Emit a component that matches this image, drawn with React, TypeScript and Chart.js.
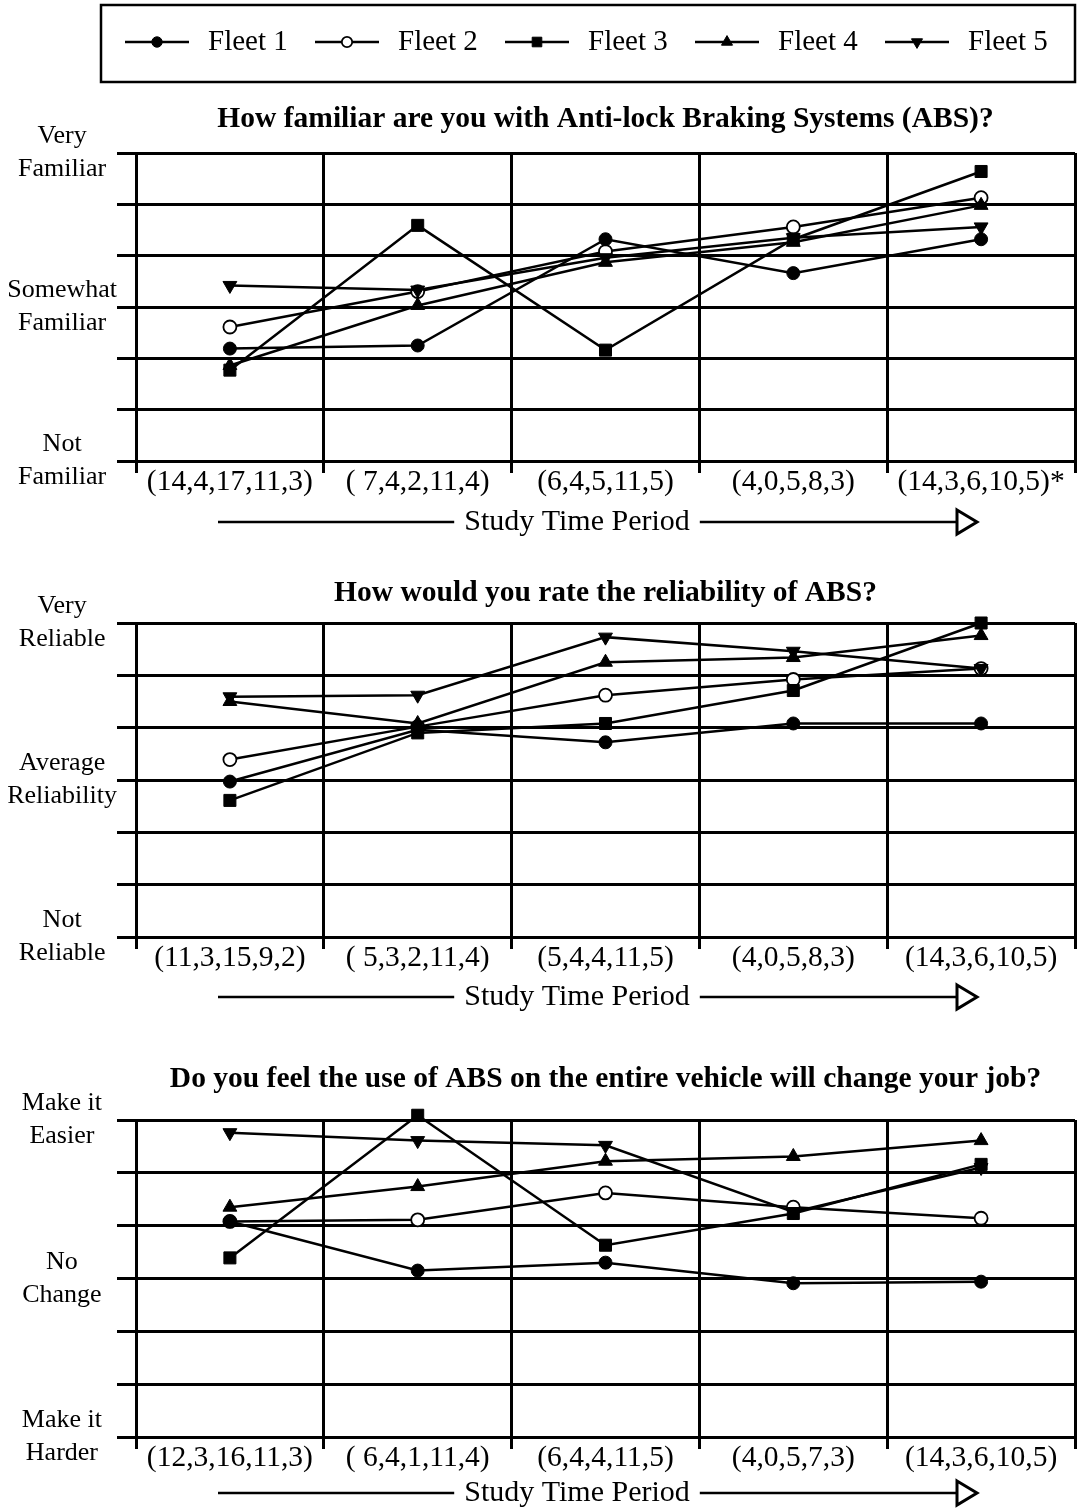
import React, { useEffect, useRef } from 'react';
import { Chart, registerables } from 'chart.js';

Chart.register(...registerables);

const FONT = "'Liberation Serif', 'Times New Roman', Times, serif";

const fleetNames = ['Fleet 1', 'Fleet 2', 'Fleet 3', 'Fleet 4', 'Fleet 5'];

// scale: 1 = lowest answer, 2 = middle answer, 3 = highest answer
const levelTicks = [1, 4 / 3, 5 / 3, 2, 7 / 3, 8 / 3, 3];

// Panel 1 — familiarity
const familiarTitle = 'How familiar are you with Anti-lock Braking Systems (ABS)?';
const familiarPeriods = ['(14,4,17,11,3)', '( 7,4,2,11,4)', '(6,4,5,11,5)', '(4,0,5,8,3)', '(14,3,6,10,5)*'];
const familiarLevels = [['Not', 'Familiar'], ['Somewhat', 'Familiar'], ['Very', 'Familiar']];
const familiarFleet1 = [1.73, 1.75, 2.44, 2.22, 2.44];
const familiarFleet2 = [1.87, 2.1, 2.36, 2.52, 2.71];
const familiarFleet3 = [1.59, 2.53, 1.72, 2.44, 2.88];
const familiarFleet4 = [1.62, 2.01, 2.29, 2.42, 2.66];
const familiarFleet5 = [2.14, 2.11, 2.32, 2.45, 2.52];

// Panel 2 — reliability
const reliableTitle = 'How would you rate the reliability of ABS?';
const reliablePeriods = ['(11,3,15,9,2)', '( 5,3,2,11,4)', '(5,4,4,11,5)', '(4,0,5,8,3)', '(14,3,6,10,5)'];
const reliableLevels = [['Not', 'Reliable'], ['Average', 'Reliability'], ['Very', 'Reliable']];
const reliableFleet1 = [1.99, 2.32, 2.24, 2.36, 2.36];
const reliableFleet2 = [2.13, 2.34, 2.54, 2.64, 2.71];
const reliableFleet3 = [1.87, 2.3, 2.36, 2.57, 3.0];
const reliableFleet4 = [2.5, 2.36, 2.75, 2.78, 2.92];
const reliableFleet5 = [2.53, 2.54, 2.91, 2.82, 2.71];

// Panel 3 — job change
const jobTitle = 'Do you feel the use of ABS on the entire vehicle will change your job?';
const jobPeriods = ['(12,3,16,11,3)', '( 6,4,1,11,4)', '(6,4,4,11,5)', '(4,0,5,7,3)', '(14,3,6,10,5)'];
const jobLevels = [['Make it', 'Harder'], ['No', 'Change'], ['Make it', 'Easier']];
const jobFleet1 = [2.36, 2.05, 2.1, 1.97, 1.98];
const jobFleet2 = [2.36, 2.37, 2.54, 2.45, 2.38];
const jobFleet3 = [2.13, 3.03, 2.21, 2.41, 2.72];
const jobFleet4 = [2.45, 2.58, 2.74, 2.77, 2.87];
const jobFleet5 = [2.92, 2.87, 2.84, 2.42, 2.7];

const markerStyles = [
  { pointStyle: 'circle', radius: 6.5, fill: '#000', rotation: 0, bw: 1, order: 0 },
  { pointStyle: 'circle', radius: 6.5, fill: '#fff', rotation: 0, bw: 1.8, order: 1 },
  { pointStyle: 'rect', radius: 8.5, fill: '#000', rotation: 0, bw: 1, order: 0 },
  { pointStyle: 'triangle', radius: 8, fill: '#000', rotation: 0, bw: 1, order: 0 },
  { pointStyle: 'triangle', radius: 8, fill: '#000', rotation: 180, bw: 1, order: 0 },
];

function drawMarker(ctx: CanvasRenderingContext2D, style: string, x: number, y: number, r: number, fill: string, rotation: number, bw: number) {
  ctx.save();
  ctx.translate(x, y);
  ctx.rotate((rotation * Math.PI) / 180);
  ctx.beginPath();
  if (style === 'circle') {
    ctx.arc(0, 0, r, 0, Math.PI * 2);
  } else if (style === 'rect') {
    const s = r * Math.SQRT1_2;
    ctx.rect(-s, -s, 2 * s, 2 * s);
  } else {
    let rad = 0;
    const step = (2 * Math.PI) / 3;
    ctx.moveTo(Math.sin(rad) * r, -Math.cos(rad) * r);
    rad += step;
    ctx.lineTo(Math.sin(rad) * r, -Math.cos(rad) * r);
    rad += step;
    ctx.lineTo(Math.sin(rad) * r, -Math.cos(rad) * r);
  }
  ctx.closePath();
  ctx.fillStyle = fill;
  ctx.fill();
  ctx.lineWidth = bw;
  ctx.strokeStyle = '#000';
  ctx.stroke();
  ctx.restore();
}

const legendPlugin = {
  id: 'fleetLegend',
  afterDraw(chart: any) {
    const ctx: CanvasRenderingContext2D = chart.ctx;
    ctx.save();
    ctx.strokeStyle = '#000';
    ctx.lineWidth = 2.5;
    ctx.strokeRect(101, 5, 974, 77);
    chart.data.datasets.forEach((ds: any, i: number) => {
      const x0 = 125 + i * 190;
      const y = 42;
      ctx.strokeStyle = '#000';
      ctx.lineWidth = 2.5;
      ctx.beginPath();
      ctx.moveTo(x0, y);
      ctx.lineTo(x0 + 64, y);
      ctx.stroke();
      drawMarker(ctx, ds.pointStyle, x0 + 32, y, ds.pointRadius * 0.8, ds.pointBackgroundColor, ds.pointRotation, ds.pointBorderWidth);
      ctx.font = `29px ${FONT}`;
      ctx.fillStyle = '#000';
      ctx.textAlign = 'left';
      ctx.textBaseline = 'middle';
      ctx.fillText(ds.label, x0 + 83, y);
    });
    ctx.restore();
  },
};

function studyAxisPlugin(offset: number) {
  return {
    id: 'studyAxis',
    afterDraw(chart: any) {
      const ctx: CanvasRenderingContext2D = chart.ctx;
      const area = chart.chartArea;
      const y = area.bottom + offset;
      const cx = area.left + 441;
      const text = 'Study Time Period';
      ctx.save();
      ctx.font = `30px ${FONT}`;
      ctx.fillStyle = '#000';
      ctx.textAlign = 'center';
      ctx.textBaseline = 'middle';
      const w = ctx.measureText(text).width;
      ctx.fillText(text, cx, y);
      ctx.strokeStyle = '#000';
      ctx.lineWidth = 2.5;
      ctx.beginPath();
      ctx.moveTo(cx - 359, y);
      ctx.lineTo(cx - w / 2 - 10, y);
      ctx.moveTo(cx + w / 2 + 10, y);
      ctx.lineTo(cx + 381, y);
      ctx.stroke();
      ctx.beginPath();
      ctx.moveTo(cx + 380, y - 12);
      ctx.lineTo(cx + 400, y);
      ctx.lineTo(cx + 380, y + 12);
      ctx.closePath();
      ctx.fillStyle = '#fff';
      ctx.fill();
      ctx.lineWidth = 3;
      ctx.stroke();
      ctx.restore();
    },
  };
}

type PanelCfg = {
  title: string;
  categories: string[];
  levels: string[][];
  series: number[][];
  top: number;
  height: number;
  titleTop: number;
  titleBottom: number;
  padBottom: number;
  axisOffset: number;
  yPad: number;
  legend: boolean;
};

const panels: PanelCfg[] = [
  {
    title: familiarTitle,
    categories: familiarPeriods,
    levels: familiarLevels,
    series: [familiarFleet1, familiarFleet2, familiarFleet3, familiarFleet4, familiarFleet5],
    top: 0, height: 545, titleTop: 101.3, titleBottom: 16.3, padBottom: 44, axisOffset: 61, yPad: 0, legend: true,
  },
  {
    title: reliableTitle,
    categories: reliablePeriods,
    levels: reliableLevels,
    series: [reliableFleet1, reliableFleet2, reliableFleet3, reliableFleet4, reliableFleet5],
    top: 545, height: 485, titleTop: 30.3, titleBottom: 12.3, padBottom: 53, axisOffset: 60, yPad: 0, legend: false,
  },
  {
    title: jobTitle,
    categories: jobPeriods,
    levels: jobLevels,
    series: [jobFleet1, jobFleet2, jobFleet3, jobFleet4, jobFleet5],
    top: 1030, height: 478, titleTop: 31.3, titleBottom: 23.3, padBottom: 31, axisOffset: 56, yPad: 15, legend: false,
  },
];

function Panel({ cfg }: { cfg: PanelCfg }) {
  const ref = useRef<HTMLCanvasElement>(null);
  useEffect(() => {
    if (!ref.current) return;
    const datasets = cfg.series.map((data, i) => {
      const m = markerStyles[i];
      return {
        label: fleetNames[i],
        data,
        order: m.order,
        borderColor: '#000',
        borderWidth: 2.5,
        backgroundColor: m.fill,
        pointStyle: m.pointStyle,
        pointRadius: m.radius,
        pointHoverRadius: m.radius,
        pointBackgroundColor: m.fill,
        pointBorderColor: '#000',
        pointBorderWidth: m.bw,
        pointRotation: m.rotation,
        tension: 0,
        fill: false,
        clip: false,
      };
    });
    const plugins: any[] = [studyAxisPlugin(cfg.axisOffset)];
    if (cfg.legend) plugins.push(legendPlugin);
    const chart = new Chart(ref.current, {
      type: 'line',
      data: { labels: cfg.categories, datasets: datasets as any },
      plugins,
      options: {
        responsive: false,
        animation: false,
        events: [],
        layout: { autoPadding: false, padding: { left: 0, right: 5, top: 0, bottom: cfg.padBottom } },
        plugins: {
          legend: { display: false },
          tooltip: { enabled: false },
          title: {
            display: true,
            text: cfg.title,
            color: '#000',
            fullSize: false,
            font: { family: FONT, size: 29.5, weight: 'bold', lineHeight: 1.2 },
            padding: { top: cfg.titleTop, bottom: cfg.titleBottom },
          },
        },
        scales: {
          x: {
            type: 'category',
            offset: true,
            grid: { offset: true, color: '#000', lineWidth: 3, tickLength: 12, drawTicks: true },
            border: { display: true, color: '#000', width: 3 },
            ticks: {
              color: '#000',
              font: { family: FONT, size: 29.5, lineHeight: 1 },
              padding: -6,
              maxRotation: 0,
              minRotation: 0,
              autoSkip: false,
            },
            afterFit: (s: any) => { s.height = 40; },
          },
          y: {
            type: 'linear',
            min: 1,
            max: 3,
            grid: { color: '#000', lineWidth: 3, tickLength: 19, drawTicks: true },
            border: { display: true, color: '#000', width: 3 },
            afterBuildTicks: (s: any) => { s.ticks = levelTicks.map((v) => ({ value: v })); },
            ticks: {
              color: '#000',
              font: { family: FONT, size: 26, lineHeight: 1.27 },
              crossAlign: 'center',
              padding: cfg.yPad,
              autoSkip: false,
              callback: (_v: any, i: number) => (i === 0 ? cfg.levels[0] : i === 3 ? cfg.levels[1] : i === 6 ? cfg.levels[2] : ''),
            },
            afterFit: (s: any) => { s.width = 136; },
          },
        },
      } as any,
    });
    return () => chart.destroy();
  }, [cfg]);
  return (
    <canvas
      ref={ref}
      width={1080}
      height={cfg.height}
      style={{ position: 'absolute', left: 0, top: cfg.top, display: 'block', width: 1080, height: cfg.height }}
    />
  );
}

export default function App() {
  return (
    <div style={{ position: 'absolute', left: 0, top: 0, width: 1080, height: 1508, background: '#fff', overflow: 'hidden' }}>
      {panels.map((p, i) => (
        <Panel key={i} cfg={p} />
      ))}
    </div>
  );
}
